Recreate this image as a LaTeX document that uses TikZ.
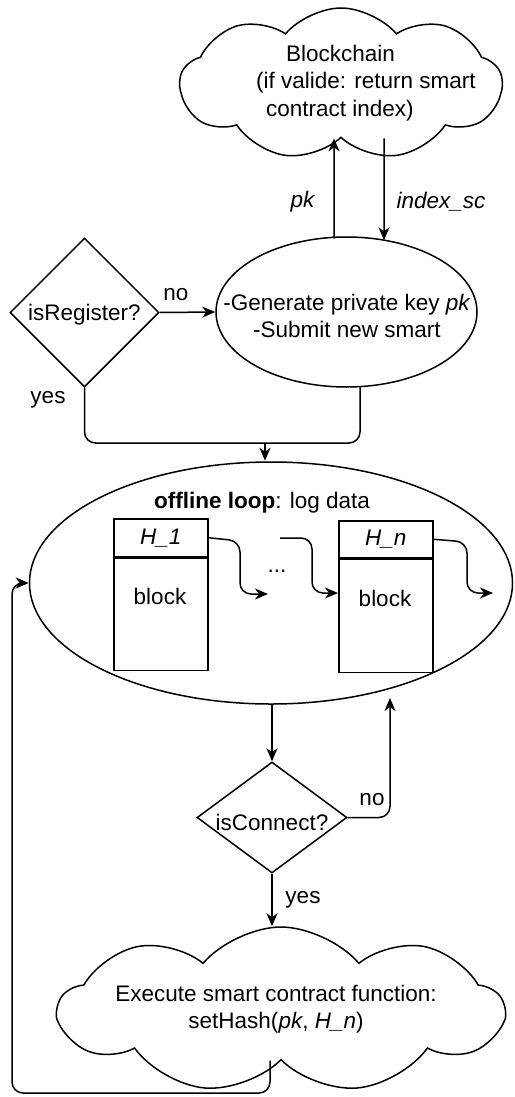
\documentclass[tikz,border=0pt]{standalone}
\usepackage{fontspec}
\setmainfont{Liberation Sans}
\usetikzlibrary{shapes.geometric,shapes.symbols,arrows.meta,calc}
\begin{document}
\begin{tikzpicture}[x=1pt,y=-1pt,line width=1.5pt,
  every node/.style={font=\fontsize{22.5}{27.5}\selectfont},
  arr/.style={-{Stealth[length=13pt,width=11pt,inset=4pt]}},
  cloudbox/.style={cloud, cloud puffs=9, cloud puff arc=100, cloud ignores aspect, draw, inner sep=0pt},
  ellbox/.style={ellipse, draw, inner sep=0pt},
  diabox/.style={diamond, draw, inner sep=0pt},
  blockbox/.style={rectangle, draw, inner sep=0pt, minimum width=94pt},
  rc/.style={rounded corners=11pt}]
\useasboundingbox (0,0) rectangle (514,1097);

% top cloud
\node[cloudbox, minimum width=322pt, minimum height=152pt] (bc) at (341,84) {};
\node[align=left, anchor=west] (bctext) at (252,83) {\hspace{30pt}Blockchain\\(if valide: return smart\\\hspace{10pt}contract index)};

% generate ellipse
\node[ellbox, minimum width=261pt, minimum height=150pt] (gen) at (346.5,312) {};
\node[align=center] (gentext) at (347,316) {-Generate private key \textit{pk}\\-Submit new smart};

\draw[arr] ([xshift=-12.5pt,yshift=-2pt]gen.north) -- ([xshift=-7pt]bc.south);
\draw[arr] ([xshift=43pt]bc.south) -- ([xshift=37.5pt,yshift=-4pt]gen.north);
\node (lpk) at (303,202) {\textit{pk}};
\node (lsc) at (441,202) {\textit{index\_sc}};

% isRegister
\node[diabox, minimum width=149pt, minimum height=149pt] (reg) at (84.5,312.5) {};
\node (regtext) at (84.5,315) {isRegister?};
\draw[arr] (reg.east) -- (gen.west);
\node (lno1) at (176,295) {no};
\node (lyes1) at (48,400) {yes};

% merge
\coordinate (m) at (265,443);
\draw[rc] (reg.south) |- (m);
\draw[rc] ([xshift=13.5pt,yshift=0.5pt]gen.south) |- (m);

% offline loop
\node[ellbox, minimum width=483pt, minimum height=242pt] (loop) at (271,583) {};
\draw[arr] (m) -- ([xshift=-6pt,yshift=0.5pt]loop.north);
\node (title) at (262,503) {\textbf{offline loop}: log data};

% blocks
\node[blockbox, minimum height=38pt, anchor=north west] (h1) at (113,518) {\textit{H\_1}};
\node[blockbox, minimum height=112pt, anchor=north] (b1) at (h1.south) {};
\node (b1text) at (160,596) {block};
\node[blockbox, minimum height=37pt, anchor=north west] (hn) at (338,520) {\textit{H\_n}};
\node[blockbox, minimum height=113pt, anchor=north] (bn) at (hn.south) {};
\node (bntext) at (385,598) {block};
\node (dots) at (277,571) {...};

\coordinate (a1end) at (268,594);
\coordinate (a2start) at (280,538);
\coordinate (a3end) at (493,593);
\draw[arr, rc] (h1.east) -- (240,541) -- (240,594) -- (a1end);
\draw[arr, rc] (a2start) -- (312,538) -- (312,593) -- (312,593 -| bn.west);
\draw[arr, rc] (hn.east) -- (467,542) -- (467,593) -- (a3end);

% isConnect
\node[diabox, minimum width=150pt, minimum height=111pt] (con) at (272,817.5) {};
\node (context) at (272,822) {isConnect?};
\draw[arr] ([xshift=1pt]loop.south) -- (con.north);
\coordinate (noend) at (390,698);
\draw[arr, rc] (con.east) -- (390,817.5) -- (noend);
\node (lno2) at (372,800) {no};

% execute cloud
\node[cloudbox, minimum width=444pt, minimum height=166pt] (ex) at (281,1010) {};
\node[align=center] (extext) at (276,1009) {Execute smart contract function:\\setHash(\textit{pk}, \textit{H\_n})};
\draw[arr] (con.south) -- ([xshift=-9pt]ex.north);
\node (lyes2) at (303,900) {yes};

% loop back
\draw[arr, rc] ([xshift=-11pt]ex.south) -- (270,1093) -- (12,1093) -- (12,583) -- (loop.west);
\end{tikzpicture}
\end{document}
